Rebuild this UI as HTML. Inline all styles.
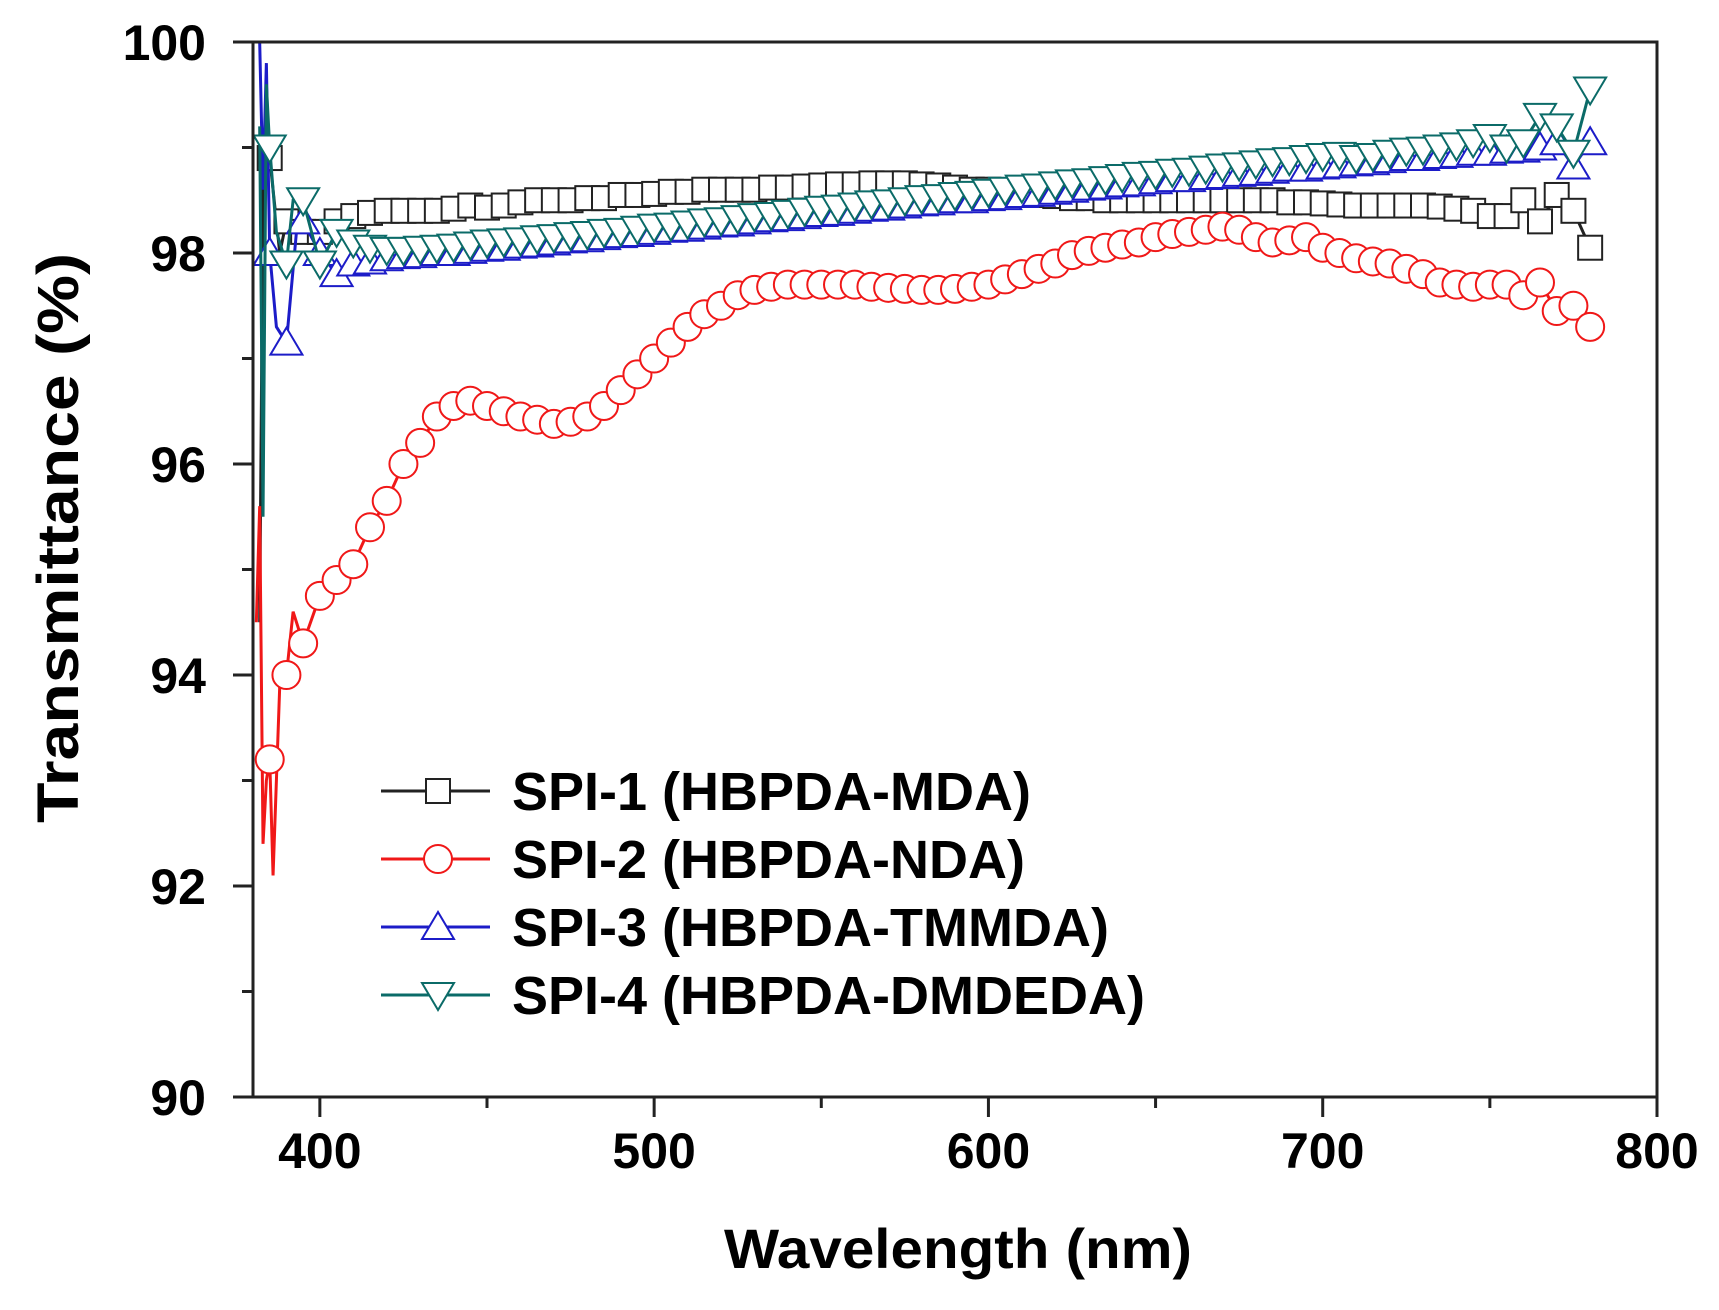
<!DOCTYPE html>
<html><head><meta charset="utf-8"><style>
html,body{margin:0;padding:0;background:#fff;}
svg{display:block;font-family:"Liberation Sans",Arial,sans-serif;font-weight:bold;}
</style></head><body>
<svg id="chart" width="1719" height="1310" viewBox="0 0 1719 1310" xmlns="http://www.w3.org/2000/svg"></svg>
<script>
const xMain = [400,405,410,415,420,425,430,435,440,445,450,455,460,465,470,475,480,485,490,495,500,505,510,515,520,525,530,535,540,545,550,555,560,565,570,575,580,585,590,595,600,605,610,615,620,625,630,635,640,645,650,655,660,665,670,675,680,685,690,695,700,705,710,715,720,725,730,735,740,745,750,755,760,765,770,775,780];
const spi1Early = [[382,94.5],[383,98.6],[385,98.9],[388,98.0],[390,98.3],[395,98.2]];
const spi1 = [98.2,98.3,98.35,98.38,98.4,98.4,98.4,98.4,98.42,98.45,98.43,98.45,98.48,98.5,98.5,98.5,98.52,98.52,98.55,98.55,98.56,98.58,98.58,98.6,98.6,98.6,98.6,98.62,98.62,98.63,98.64,98.65,98.65,98.66,98.66,98.66,98.65,98.64,98.62,98.6,98.6,98.58,98.56,98.55,98.54,98.52,98.52,98.5,98.5,98.5,98.5,98.5,98.5,98.5,98.5,98.5,98.5,98.5,98.48,98.48,98.47,98.46,98.45,98.45,98.45,98.45,98.45,98.44,98.42,98.4,98.35,98.35,98.5,98.3,98.55,98.4,98.05];
const spi2Early = [[381,94.5],[382,95.6],[383,92.4],[384,93.0],[385,93.2],[386,92.1],[388,93.9],[390,94.0],[392,94.6],[395,94.3]];
const spi2 = [94.75,94.9,95.05,95.4,95.65,96.0,96.2,96.45,96.55,96.6,96.55,96.5,96.45,96.42,96.38,96.4,96.45,96.55,96.7,96.85,97.0,97.15,97.3,97.42,97.5,97.6,97.65,97.68,97.7,97.7,97.7,97.7,97.7,97.68,97.67,97.66,97.65,97.65,97.66,97.68,97.7,97.75,97.8,97.85,97.9,97.98,98.02,98.05,98.08,98.1,98.15,98.18,98.2,98.22,98.25,98.22,98.15,98.1,98.12,98.15,98.05,98.0,97.95,97.92,97.9,97.85,97.8,97.72,97.7,97.68,97.7,97.7,97.6,97.72,97.45,97.5,97.3];
const spi3Early = [[382,100],[383,98.6],[384,99.8],[385,98.0],[387,97.3],[390,97.15],[393,98.2],[395,98.3]];
const spi3 = [98.0,97.8,97.9,97.92,97.95,97.97,97.98,98.0,98.0,98.02,98.04,98.05,98.07,98.08,98.1,98.12,98.13,98.15,98.17,98.18,98.2,98.22,98.23,98.25,98.27,98.28,98.3,98.32,98.33,98.35,98.37,98.38,98.4,98.42,98.43,98.45,98.47,98.48,98.5,98.5,98.52,98.53,98.55,98.56,98.58,98.6,98.62,98.63,98.65,98.66,98.68,98.7,98.7,98.72,98.73,98.75,98.76,98.78,98.8,98.8,98.82,98.83,98.85,98.86,98.88,98.9,98.9,98.92,98.93,98.95,98.95,98.97,98.98,99.0,99.05,98.82,99.05];
const spi4Early = [[382,99.2],[383,95.5],[384,99.6],[385,99.0],[387,98.2],[390,97.9],[392,98.5],[395,98.5]];
const spi4 = [97.9,98.2,98.1,98.05,98.03,98.03,98.04,98.05,98.06,98.08,98.1,98.11,98.12,98.14,98.15,98.17,98.18,98.2,98.21,98.23,98.25,98.26,98.28,98.3,98.31,98.33,98.35,98.36,98.38,98.4,98.42,98.43,98.45,98.47,98.48,98.5,98.52,98.53,98.55,98.56,98.58,98.6,98.62,98.63,98.65,98.67,98.68,98.7,98.72,98.74,98.75,98.77,98.78,98.8,98.82,98.83,98.85,98.87,98.88,98.9,98.92,98.93,98.9,98.92,98.95,98.97,98.98,99.0,99.02,99.05,99.1,99.0,99.05,99.3,99.2,98.95,99.55];
const xTicks = [400,500,600,700,800];
const yTicks = [90,92,94,96,98,100];
const legendLabels = ["SPI-1 (HBPDA-MDA)","SPI-2 (HBPDA-NDA)","SPI-3 (HBPDA-TMMDA)","SPI-4 (HBPDA-DMDEDA)"];

const L=253,R=1657,T=42,B=1097;
const xMin=380,xMax=800,yMin=90,yMax=100;
const sx=v=>L+(v-xMin)/(xMax-xMin)*(R-L);
const sy=v=>B-(v-yMin)/(yMax-yMin)*(B-T);
const NS="http://www.w3.org/2000/svg";
const svg=document.getElementById('chart');
function mk(tag,attrs,parent){const e=document.createElementNS(NS,tag);for(const k in attrs)e.setAttribute(k,attrs[k]);(parent||svg).appendChild(e);return e;}

const clip=mk('clipPath',{id:'pc'});mk('rect',{x:L,y:T-2,width:R-L,height:B-T+4},clip);

function marker(type,cx,cy,color,g){
  let e;
  if(type==='sq') e=mk('rect',{x:cx-12,y:cy-12,width:24,height:24,fill:'#fff',stroke:color,'stroke-width':2},g);
  else if(type==='ci') e=mk('circle',{cx:cx,cy:cy,r:14,fill:'#fff',stroke:color,'stroke-width':2},g);
  else if(type==='up') e=mk('polygon',{points:`${cx},${cy-15} ${cx-16},${cy+12} ${cx+16},${cy+12}`,fill:'#fff',stroke:color,'stroke-width':2},g);
  else e=mk('polygon',{points:`${cx},${cy+15} ${cx-16},${cy-12} ${cx+16},${cy-12}`,fill:'#fff',stroke:color,'stroke-width':2},g);
  return e;
}
const series=[
 {name:'spi-1',early:spi1Early,vals:spi1,color:'#222',m:'sq'},
 {name:'spi-2',early:spi2Early,vals:spi2,color:'#f01818',m:'ci'},
 {name:'spi-3',early:spi3Early,vals:spi3,color:'#1c1cc8',m:'up'},
 {name:'spi-4',early:spi4Early,vals:spi4,color:'#0b6b68',m:'dn'}
];
series.forEach(s=>{
  const g=mk('g',{'clip-path':'url(#pc)'});
  
  
  const pts=s.early.map(p=>[p[0],p[1]]).concat(xMain.map((x,i)=>[x,s.vals[i]]));
  const line=mk('polyline',{points:pts.map(p=>sx(p[0])+','+sy(p[1])).join(' '),fill:'none',stroke:s.color,'stroke-width':3},g);
  
  
  pts.forEach(p=>{if(p[0]>=385 && p[0]%5===0){const m=marker(s.m,sx(p[0]),sy(p[1]),s.color,g);
    
    }});
});

const frame=mk('rect',{x:L,y:T,width:R-L,height:B-T,fill:'none',stroke:'#222','stroke-width':3});


xTicks.forEach(v=>{
  mk('line',{x1:sx(v),x2:sx(v),y1:B,y2:B+20,stroke:'#222','stroke-width':3});
  const t=mk('text',{x:sx(v),y:1168,'text-anchor':'middle','font-size':50,fill:'#000'});
  t.textContent=v;
  
  
});
[450,550,650,750].forEach(v=>mk('line',{x1:sx(v),x2:sx(v),y1:B,y2:B+11,stroke:'#222','stroke-width':3}));
yTicks.forEach(v=>{
  mk('line',{x1:L-20,x2:L,y1:sy(v),y2:sy(v),stroke:'#222','stroke-width':3});
  const t=mk('text',{x:206,y:sy(v)+18,'text-anchor':'end','font-size':50,fill:'#000'});
  t.textContent=v;
  
  
});
[91,93,95,97,99].forEach(v=>mk('line',{x1:L-11,x2:L,y1:sy(v),y2:sy(v),stroke:'#222','stroke-width':3}));

const xt=mk('text',{x:958,y:1268,'text-anchor':'middle','font-size':56,fill:'#000',textLength:468,lengthAdjust:'spacingAndGlyphs'});
xt.textContent='Wavelength (nm)';


const yt=mk('text',{x:0,y:0,'text-anchor':'middle','font-size':58,fill:'#000',textLength:570,lengthAdjust:'spacingAndGlyphs',transform:'translate(78,538) rotate(-90)'});
yt.textContent='Transmittance (%)';



const lg=mk('g',{});


legendLabels.forEach((lab,i)=>{
  const y=791+i*68, s=series[i];
  const e=mk('g',{},lg);
  
  
  mk('line',{x1:381,x2:490,y1:y,y2:y,stroke:s.color,'stroke-width':3},e);
  marker(s.m,438,y,s.color,e);
  const t=mk('text',{x:512,y:y+19,'font-size':54,fill:'#000'},e);
  t.textContent=lab;
});
</script>
</body></html>
